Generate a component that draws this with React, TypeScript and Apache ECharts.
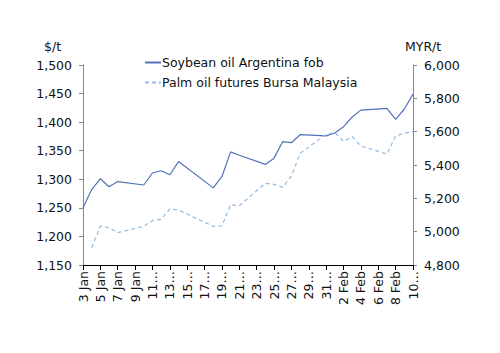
import React, { useEffect, useRef } from "react";
import * as echarts from "echarts";

const categories: string[] = [
  "3 Jan", "4 Jan", "5 Jan", "6 Jan", "7 Jan", "8 Jan", "9 Jan", "10 Jan", "11 Jan", "12 Jan",
  "13 Jan", "14 Jan", "15 Jan", "16 Jan", "17 Jan", "18 Jan", "19 Jan", "20 Jan", "21 Jan", "22 Jan",
  "23 Jan", "24 Jan", "25 Jan", "26 Jan", "27 Jan", "28 Jan", "29 Jan", "30 Jan", "31 Jan",
  "1 Feb", "2 Feb", "3 Feb", "4 Feb", "5 Feb", "6 Feb", "7 Feb", "8 Feb", "9 Feb", "10 Feb",
];

const tickLabels: string[] = [
  "3 Jan", "5 Jan", "7 Jan", "9 Jan", "11…", "13…", "15…", "17…", "19…", "21…",
  "23…", "25…", "27…", "29…", "31…", "2 Feb", "4 Feb", "6 Feb", "8 Feb", "10…",
];

const soybean: (number | null)[] = [
  1250, 1282, 1301, 1287, 1296, null, null, 1290, 1311, 1315,
  1308, 1331, null, null, null, 1285, 1305, 1348, 1342, null,
  null, 1326, 1337, 1366, 1364, 1378, null, null, 1376,
  1381, 1392, 1409, 1421, null, null, 1424, 1405, 1423, 1449,
];

const palm: (number | null)[] = [
  null, 4904, 5034, 5024, 4994, null, null, 5032, 5066, 5074,
  5136, 5130, null, null, null, 5032, 5034, 5162, 5156, null,
  null, 5290, 5284, 5266, 5335, 5470, null, null, 5584,
  5594, 5542, 5570, 5514, null, null, 5466, 5574, 5590, 5600,
];

const seriesNames = ["Soybean oil Argentina fob", "Palm oil futures Bursa Malaysia"];
const FONT = "DejaVu Sans";

export default function App() {
  const ref = useRef<HTMLDivElement>(null);
  useEffect(() => {
    if (!ref.current) return;
    const chart = echarts.init(ref.current, undefined, { renderer: "svg" });
    chart.setOption({
      animation: false,
      textStyle: { fontFamily: FONT },
      grid: { left: 83, right: 87, top: 65, bottom: 88, containLabel: false },
      legend: {
        orient: "vertical",
        left: 139,
        top: 51,
        itemWidth: 16,
        itemHeight: 8,
        itemGap: 7,
        itemStyle: { opacity: 0 },
        textStyle: { fontFamily: FONT, fontSize: 12.5, color: "#111", padding: [0, 0, 0, -4] },
        data: seriesNames,
      },
      graphic: [
        {
          type: "text",
          left: 44,
          top: 40,
          style: { text: "$/t", font: `12.5px ${FONT}`, fill: "#111" },
        },
        {
          type: "text",
          left: 405,
          top: 40,
          style: { text: "MYR/t", font: `12.5px ${FONT}`, fill: "#111" },
        },
      ],
      xAxis: {
        type: "category",
        data: categories,
        boundaryGap: false,
        axisLine: { lineStyle: { color: "#000", width: 1 } },
        axisTick: { interval: 1, length: 5, lineStyle: { color: "#000" } },
        axisLabel: {
          interval: 1,
          rotate: 90,
          fontFamily: FONT,
          fontSize: 12.5,
          color: "#111",
          margin: 6,
          formatter: (_v: string, i: number) => tickLabels[Math.floor(i / 2)] ?? "",
        },
        splitLine: { show: false },
      },
      yAxis: [
        {
          type: "value",
          min: 1150,
          max: 1500,
          interval: 50,
          position: "left",
          axisLine: { show: true, lineStyle: { color: "#888" } },
          axisTick: { show: true, length: 4, lineStyle: { color: "#888" } },
          axisLabel: {
            fontFamily: FONT,
            fontSize: 12.5,
            color: "#111",
            margin: 11,
            formatter: (v: number) => v.toLocaleString("en-US"),
          },
          splitLine: { show: false },
        },
        {
          type: "value",
          min: 4800,
          max: 6000,
          interval: 200,
          position: "right",
          axisLine: { show: true, lineStyle: { color: "#888" } },
          axisTick: { show: true, length: 4, lineStyle: { color: "#888" } },
          axisLabel: {
            fontFamily: FONT,
            fontSize: 12.5,
            color: "#111",
            margin: 11,
            formatter: (v: number) => v.toLocaleString("en-US"),
          },
          splitLine: { show: false },
        },
      ],
      series: [
        {
          name: seriesNames[0],
          type: "line",
          yAxisIndex: 0,
          data: soybean,
          connectNulls: true,
          symbol: "none",
          lineStyle: { color: "#5272b8", width: 1.2 },
          itemStyle: { color: "#5272b8" },
        },
        {
          name: seriesNames[1],
          type: "line",
          yAxisIndex: 1,
          data: palm,
          connectNulls: true,
          symbol: "none",
          lineStyle: { color: "#93bbe8", width: 1.2, type: [4, 3] },
          itemStyle: { color: "#93bbe8" },
        },
      ],
    });
    return () => chart.dispose();
  }, []);
  return <div ref={ref} style={{ width: 500, height: 353, position: "absolute", left: 0, top: 0 }} />;
}
